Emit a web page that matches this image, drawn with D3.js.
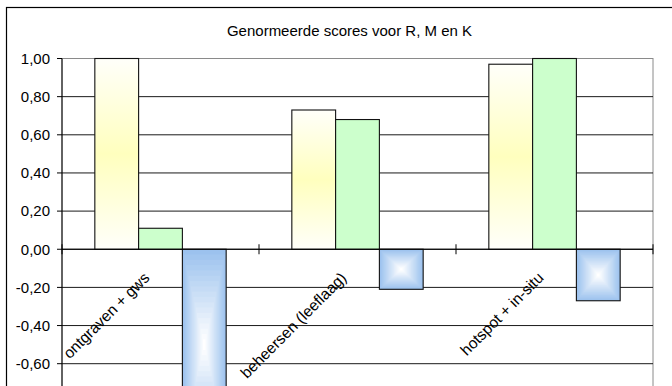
<!DOCTYPE html>
<html>
<head>
<meta charset="utf-8">
<script src="https://cdn.jsdelivr.net/npm/d3@7"></script>
<style>
  html, body { margin: 0; padding: 0; background: #fff; overflow: hidden; }
  svg { display: block; font-family: "Liberation Sans", Arial, sans-serif; }
</style>
</head>
<body>
<svg id="chart" width="672" height="386"></svg>
<script>
// Normalised scores per remediation variant
const categories = ["ontgraven + gws", "beheersen (leeflaag)", "hotspot + in-situ"];
const seriesNames = ["R", "M", "K"];
const scoresR = [1.00, 0.73, 0.97];
const scoresM = [0.11, 0.68, 1.00];
const scoresK = [-1.00, -0.21, -0.27];
const yTickValues = [-0.60, -0.40, -0.20, 0.00, 0.20, 0.40, 0.60, 0.80, 1.00];
const titleText = "Genormeerde scores voor R, M en K";

const svg = d3.select("#chart");

const plot = { left: 62, right: 653, top: 58.5, bottom: 440 };

const y = d3.scaleLinear().domain([-1, 1]).range([plot.bottom, plot.top]);
const x = d3.scaleBand().domain(categories).range([plot.left, plot.right]).padding(0);
const xs = d3.scaleBand().domain(seriesNames).range([0, x.bandwidth()])
  .paddingInner(0).paddingOuter(0.75);

const nl = d3.formatLocale({ decimal: ",", thousands: ".", grouping: [3], currency: ["€", ""], minus: "-" });
const fmt = nl.format(".2f");

// chart area frame
svg.append("rect")
  .attr("x", 6.5).attr("y", 7.5).attr("width", 720).attr("height", 520)
  .attr("fill", "#fff").attr("stroke", "#000").attr("stroke-width", 1.2);

// title
svg.append("text")
  .attr("x", 349.5).attr("y", 35.5)
  .attr("text-anchor", "middle")
  .attr("font-size", 15)
  .attr("fill", "#000")
  .text(titleText);

const defs = svg.append("defs");
const gradR = defs.append("linearGradient").attr("id", "gradR")
  .attr("x1", 0).attr("y1", 0).attr("x2", 0).attr("y2", 1);
gradR.append("stop").attr("offset", 0).attr("stop-color", "#FFFFFA");
gradR.append("stop").attr("offset", 0.5).attr("stop-color", "#FFFFBE");
gradR.append("stop").attr("offset", 1).attr("stop-color", "#FFFFFA");

// plot area frame
svg.append("rect")
  .attr("x", plot.left).attr("y", plot.top)
  .attr("width", plot.right - plot.left).attr("height", plot.bottom - plot.top)
  .attr("fill", "#fff").attr("stroke", "#8a8a8a").attr("stroke-width", 1);

// horizontal gridlines
svg.append("g").selectAll("line")
  .data(yTickValues.filter(v => v < 1))
  .join("line")
  .attr("x1", plot.left).attr("x2", plot.right)
  .attr("y1", d => y(d)).attr("y2", d => y(d))
  .attr("stroke", "#1a1a1a").attr("stroke-width", 1);

// bars
const series = [
  { key: "R", values: scoresR },
  { key: "M", values: scoresM },
  { key: "K", values: scoresK }
];
const barRows = [];
series.forEach(s => s.values.forEach((v, i) => barRows.push({ key: s.key, cat: categories[i], value: v })));

const barG = svg.append("g");
const blueEdge = "#9CC2EE";
const boxInterp = d3.interpolateRgb(blueEdge, "#FFFFFF");

barRows.forEach(d => {
  const bx = x(d.cat) + xs(d.key);
  const bw = xs.bandwidth();
  const by = Math.min(y(d.value), y(0));
  const bh = Math.abs(y(d.value) - y(0));
  if (d.key === "R") {
    barG.append("rect").attr("x", bx).attr("y", by).attr("width", bw).attr("height", bh)
      .attr("fill", "url(#gradR)");
  } else if (d.key === "M") {
    barG.append("rect").attr("x", bx).attr("y", by).attr("width", bw).attr("height", bh)
      .attr("fill", "#CCFFCC");
  } else {
    // rectangular "from centre" gradient built from nested rectangles
    const steps = 18;
    for (let k = 0; k < steps; k++) {
      const t = k / steps;
      barG.append("rect")
        .attr("x", bx + t * bw / 2).attr("y", by + t * bh / 2)
        .attr("width", bw * (1 - t)).attr("height", bh * (1 - t))
        .attr("fill", boxInterp(k / (steps - 1)));
    }
  }
  barG.append("rect").attr("x", bx).attr("y", by).attr("width", bw).attr("height", bh)
    .attr("fill", "none").attr("stroke", "#111").attr("stroke-width", 1.1);
});

// value axis
const yAxis = svg.append("g");
yAxis.append("line")
  .attr("x1", plot.left).attr("x2", plot.left)
  .attr("y1", plot.top).attr("y2", plot.bottom)
  .attr("stroke", "#000");
yAxis.selectAll("line.tick").data(yTickValues).join("line")
  .attr("class", "tick")
  .attr("x1", plot.left - 5).attr("x2", plot.left)
  .attr("y1", d => y(d)).attr("y2", d => y(d))
  .attr("stroke", "#000");
yAxis.selectAll("text").data(yTickValues).join("text")
  .attr("x", plot.left - 12).attr("y", d => y(d))
  .attr("dy", "0.35em")
  .attr("text-anchor", "end")
  .attr("font-size", 15)
  .attr("fill", "#000")
  .text(d => fmt(d));

// category axis at zero
const y0 = y(0);
const xAxis = svg.append("g");
xAxis.append("line")
  .attr("x1", plot.left).attr("x2", plot.right)
  .attr("y1", y0).attr("y2", y0)
  .attr("stroke", "#000");
const boundaries = categories.map(c => x(c)).concat([plot.right]);
xAxis.selectAll("line.tick").data(boundaries).join("line")
  .attr("class", "tick")
  .attr("x1", d => d).attr("x2", d => d)
  .attr("y1", y0 - 5).attr("y2", y0 + 5)
  .attr("stroke", "#000");
xAxis.selectAll("text").data(categories).join("text")
  .attr("transform", d => `translate(${x(d) + x.bandwidth() / 2 - 10},${y0 + 29.5}) rotate(-45)`)
  .attr("text-anchor", "end")
  .attr("font-size", 15.5)
  .attr("fill", "#000")
  .text(d => d);
</script>
</body>
</html>
